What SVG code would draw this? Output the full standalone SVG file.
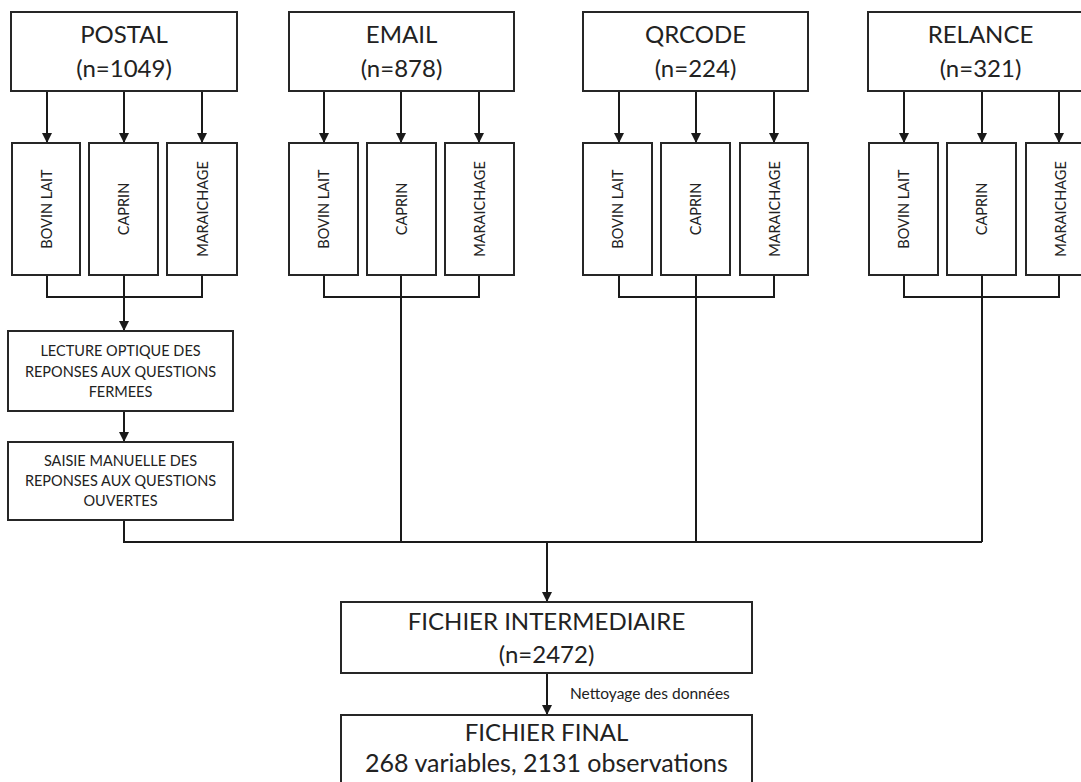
<svg xmlns="http://www.w3.org/2000/svg" width="1081" height="782" viewBox="0 0 1081 782">
<defs>
<marker id="ah" viewBox="0 0 10 10" refX="10" refY="5" markerWidth="10" markerHeight="10" markerUnits="userSpaceOnUse" orient="auto">
<path d="M0,0 L10,5 L0,10 z" fill="#1a1a1a"/>
</marker>
<style>
.box{fill:#fff;stroke:#262626;stroke-width:2}
.t{font-family:Lato,"Liberation Sans",sans-serif;fill:#222;text-anchor:middle}
.big{font-size:24px}
.mid{font-size:14.5px}
.v{font-size:14.5px;dominant-baseline:central}
.ln{fill:none;stroke:#1a1a1a;stroke-width:2}
.ar{fill:none;stroke:#1a1a1a;stroke-width:2;marker-end:url(#ah)}
</style>
</defs>
<rect width="1081" height="782" fill="#fff"/>

<g id="connectors">
<!-- POSTAL -->
<line class="ar" x1="47" y1="91" x2="47" y2="143"/>
<line class="ar" x1="124" y1="91" x2="124" y2="143"/>
<line class="ar" x1="202" y1="91" x2="202" y2="143"/>
<polyline class="ln" points="47,275 47,297 202,297 202,275"/>
<line class="ar" x1="124" y1="275" x2="124" y2="331"/>
<line class="ar" x1="124" y1="411" x2="124" y2="442"/>
<!-- EMAIL -->
<line class="ar" x1="324" y1="91" x2="324" y2="143"/>
<line class="ar" x1="401" y1="91" x2="401" y2="143"/>
<line class="ar" x1="479" y1="91" x2="479" y2="143"/>
<polyline class="ln" points="324,275 324,297 479,297 479,275"/>
<line class="ln" x1="401" y1="275" x2="401" y2="542"/>
<!-- QRCODE -->
<line class="ar" x1="619" y1="91" x2="619" y2="143"/>
<line class="ar" x1="696" y1="91" x2="696" y2="143"/>
<line class="ar" x1="774" y1="91" x2="774" y2="143"/>
<polyline class="ln" points="619,275 619,297 774,297 774,275"/>
<line class="ln" x1="696" y1="275" x2="696" y2="542"/>
<!-- RELANCE -->
<line class="ar" x1="904" y1="91" x2="904" y2="143"/>
<line class="ar" x1="982" y1="91" x2="982" y2="143"/>
<line class="ar" x1="1059" y1="91" x2="1059" y2="143"/>
<polyline class="ln" points="904,275 904,297 1059,297 1059,275"/>
<line class="ln" x1="982" y1="275" x2="982" y2="542"/>
<!-- merge -->
<polyline class="ln" points="124,520 124,542 982,542"/>
<line class="ar" x1="547" y1="542" x2="547" y2="602"/>
<line class="ar" x1="547" y1="673" x2="547" y2="715"/>
<text class="t" x="570" y="699" style="font-size:15.5px;text-anchor:start">Nettoyage des données</text>
</g>

<g id="postal">
<rect class="box" x="11" y="12" width="226" height="79"/>
<text class="t big" x="124" y="43">POSTAL</text>
<text class="t big" x="124" y="77">(n=1049)</text>
</g>
<g id="postal-bovin"><rect class="box" x="12" y="143" width="68" height="132"/><text class="t v" transform="translate(46,209) rotate(-90)">BOVIN LAIT</text></g>
<g id="postal-caprin"><rect class="box" x="89" y="143" width="69" height="132"/><text class="t v" transform="translate(123.5,209) rotate(-90)">CAPRIN</text></g>
<g id="postal-maraichage"><rect class="box" x="167" y="143" width="70" height="132"/><text class="t v" transform="translate(202,209) rotate(-90)">MARAICHAGE</text></g>

<g id="lecture">
<rect class="box" x="8" y="331" width="225" height="80"/>
<text class="t mid" x="120.5" y="356">LECTURE OPTIQUE DES</text>
<text class="t mid" x="120.5" y="376.5">REPONSES AUX QUESTIONS</text>
<text class="t mid" x="120.5" y="397">FERMEES</text>
</g>
<g id="saisie">
<rect class="box" x="8" y="442" width="225" height="78"/>
<text class="t mid" x="120.5" y="466">SAISIE MANUELLE DES</text>
<text class="t mid" x="120.5" y="486">REPONSES AUX QUESTIONS</text>
<text class="t mid" x="120.5" y="506">OUVERTES</text>
</g>

<g id="email">
<rect class="box" x="289" y="12" width="225" height="79"/>
<text class="t big" x="401.5" y="43">EMAIL</text>
<text class="t big" x="401.5" y="77">(n=878)</text>
</g>
<g id="email-bovin"><rect class="box" x="289" y="143" width="69" height="132"/><text class="t v" transform="translate(323.5,209) rotate(-90)">BOVIN LAIT</text></g>
<g id="email-caprin"><rect class="box" x="367" y="143" width="69" height="132"/><text class="t v" transform="translate(401.5,209) rotate(-90)">CAPRIN</text></g>
<g id="email-maraichage"><rect class="box" x="445" y="143" width="69" height="132"/><text class="t v" transform="translate(479.5,209) rotate(-90)">MARAICHAGE</text></g>

<g id="qrcode">
<rect class="box" x="583" y="12" width="225" height="79"/>
<text class="t big" x="695.5" y="43">QRCODE</text>
<text class="t big" x="695.5" y="77">(n=224)</text>
</g>
<g id="qrcode-bovin"><rect class="box" x="583" y="143" width="69" height="132"/><text class="t v" transform="translate(617.5,209) rotate(-90)">BOVIN LAIT</text></g>
<g id="qrcode-caprin"><rect class="box" x="661" y="143" width="69" height="132"/><text class="t v" transform="translate(695.5,209) rotate(-90)">CAPRIN</text></g>
<g id="qrcode-maraichage"><rect class="box" x="740" y="143" width="68" height="132"/><text class="t v" transform="translate(774,209) rotate(-90)">MARAICHAGE</text></g>

<g id="relance">
<rect class="box" x="868" y="12" width="225" height="79"/>
<text class="t big" x="980.5" y="43">RELANCE</text>
<text class="t big" x="980.5" y="77">(n=321)</text>
</g>
<g id="relance-bovin"><rect class="box" x="869" y="143" width="69" height="132"/><text class="t v" transform="translate(903.5,209) rotate(-90)">BOVIN LAIT</text></g>
<g id="relance-caprin"><rect class="box" x="947" y="143" width="69" height="132"/><text class="t v" transform="translate(981.5,209) rotate(-90)">CAPRIN</text></g>
<g id="relance-maraichage"><rect class="box" x="1026" y="143" width="69" height="132"/><text class="t v" transform="translate(1060.5,209) rotate(-90)">MARAICHAGE</text></g>

<g id="intermediaire">
<rect class="box" x="341" y="602" width="411" height="71"/>
<text class="t big" x="546.5" y="630">FICHIER INTERMEDIAIRE</text>
<text class="t big" x="546.5" y="663">(n=2472)</text>
</g>
<g id="final">
<rect class="box" x="341" y="715" width="411" height="80"/>
<text class="t big" x="546.5" y="741">FICHIER FINAL</text>
<text class="t big" x="546.5" y="772" style="font-size:25px">268 variables, 2131 observations</text>
</g>
</svg>
